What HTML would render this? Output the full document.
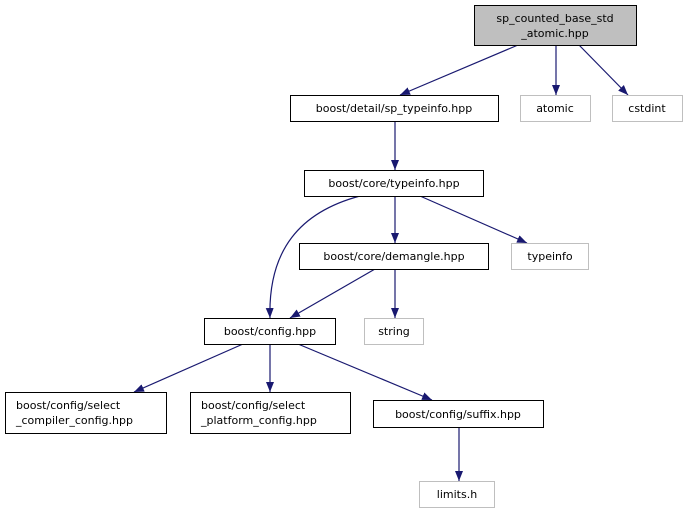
<!DOCTYPE html>
<html><head><meta charset="utf-8"><style>html,body{margin:0;padding:0;background:#fff}svg{display:block}</style></head>
<body>
<svg width="684" height="515" viewBox="0 0 684 515" xmlns="http://www.w3.org/2000/svg" font-family="'DejaVu Sans','Liberation Sans',sans-serif" font-size="11">
<defs><marker id="a" markerWidth="10" markerHeight="8" refX="10" refY="4" orient="auto" markerUnits="userSpaceOnUse"><path d="M0,0 L10,4 L0,8 z" fill="#191970"/></marker></defs>
<g stroke="#191970" stroke-width="1.2" fill="none" marker-end="url(#a)">
<path d="M518,45 L400,95"/>
<path d="M556,45 L556,95"/>
<path d="M579,45 L628,95"/>
<path d="M395,121 L395,170"/>
<path d="M360,196 C300,212 268,250 270,318"/>
<path d="M395,196 L395,243"/>
<path d="M420,196 L527,243"/>
<path d="M375,269 L290,318"/>
<path d="M395,269 L395,318"/>
<path d="M243,344 L134,392"/>
<path d="M270,344 L270,392"/>
<path d="M298,344 L432,400"/>
<path d="M459,427 L459,481"/>
</g>
<g stroke-width="1">
<rect x="474.5" y="5.5" width="162" height="40" fill="#bfbfbf" stroke="#000"/>
<rect x="290.5" y="95.5" width="208" height="26" fill="#fff" stroke="#000"/>
<rect x="520.5" y="95.5" width="70" height="26" fill="#fff" stroke="#bfbfbf"/>
<rect x="612.5" y="95.5" width="70" height="26" fill="#fff" stroke="#bfbfbf"/>
<rect x="304.5" y="170.5" width="179" height="26" fill="#fff" stroke="#000"/>
<rect x="299.5" y="243.5" width="189" height="26" fill="#fff" stroke="#000"/>
<rect x="511.5" y="243.5" width="77" height="26" fill="#fff" stroke="#bfbfbf"/>
<rect x="204.5" y="318.5" width="131" height="26" fill="#fff" stroke="#000"/>
<rect x="364.5" y="318.5" width="59" height="26" fill="#fff" stroke="#bfbfbf"/>
<rect x="5.5" y="392.5" width="161" height="41" fill="#fff" stroke="#000"/>
<rect x="190.5" y="392.5" width="160" height="41" fill="#fff" stroke="#000"/>
<rect x="373.5" y="400.5" width="170" height="27" fill="#fff" stroke="#000"/>
<rect x="419.5" y="481.5" width="75" height="26" fill="#fff" stroke="#bfbfbf"/>
</g>
<g fill="#000" text-anchor="middle">
<text x="555" y="22">sp_counted_base_std</text>
<text x="555" y="37">_atomic.hpp</text>
<text x="394" y="112">boost/detail/sp_typeinfo.hpp</text>
<text x="555" y="112">atomic</text>
<text x="647" y="112">cstdint</text>
<text x="394" y="187">boost/core/typeinfo.hpp</text>
<text x="394" y="260">boost/core/demangle.hpp</text>
<text x="550" y="260">typeinfo</text>
<text x="270" y="335">boost/config.hpp</text>
<text x="394" y="335">string</text>
<text x="458" y="418">boost/config/suffix.hpp</text>
<text x="457" y="498">limits.h</text>
</g>
<g fill="#000">
<text x="16" y="409">boost/config/select</text>
<text x="16" y="424">_compiler_config.hpp</text>
<text x="201" y="409">boost/config/select</text>
<text x="201" y="424">_platform_config.hpp</text>
</g>
</svg>
</body></html>
